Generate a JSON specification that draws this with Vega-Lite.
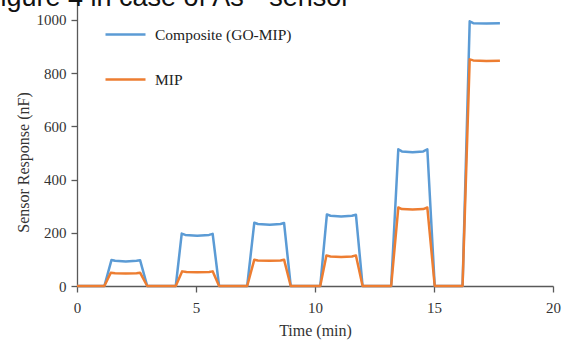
{
  "$schema": "https://vega.github.io/schema/vega-lite/v6.json",
  "autosize": {"type": "none"},
  "width": 476,
  "height": 286,
  "padding": {"left": 77, "top": 0, "right": 10, "bottom": 59},
  "background": "white",
  "title": {
    "text": "Figure 4 in case of As³⁺ sensor",
    "anchor": "start",
    "frame": "group",
    "orient": "none",
    "baseline": "alphabetic",
    "align": "left",
    "dx": -93,
    "dy": 6,
    "font": "Liberation Sans",
    "fontSize": 27,
    "fontWeight": "normal",
    "color": "#111111"
  },
  "config": {
    "view": {"stroke": null},
    "axis": {
      "grid": false,
      "labelFlush": false,
      "domainColor": "#595959",
      "tickColor": "#595959",
      "domainWidth": 1.3,
      "tickWidth": 1.3,
      "tickSize": 6,
      "labelFont": "Liberation Serif",
      "labelFontSize": 15,
      "labelColor": "#333333",
      "titleFont": "Liberation Serif",
      "titleFontSize": 16,
      "titleFontWeight": "normal",
      "titleColor": "#333333"
    }
  },
  "data": {
    "values": [
      {"s": "Composite (GO-MIP)", "t": 0, "v": 0},
      {"s": "Composite (GO-MIP)", "t": 1.15, "v": 0},
      {"s": "Composite (GO-MIP)", "t": 1.45, "v": 98},
      {"s": "Composite (GO-MIP)", "t": 1.6, "v": 95},
      {"s": "Composite (GO-MIP)", "t": 2.05, "v": 92},
      {"s": "Composite (GO-MIP)", "t": 2.5, "v": 95},
      {"s": "Composite (GO-MIP)", "t": 2.65, "v": 97},
      {"s": "Composite (GO-MIP)", "t": 2.95, "v": 0},
      {"s": "Composite (GO-MIP)", "t": 4.15, "v": 0},
      {"s": "Composite (GO-MIP)", "t": 4.4, "v": 197},
      {"s": "Composite (GO-MIP)", "t": 4.55, "v": 192},
      {"s": "Composite (GO-MIP)", "t": 5.05, "v": 189},
      {"s": "Composite (GO-MIP)", "t": 5.55, "v": 192},
      {"s": "Composite (GO-MIP)", "t": 5.7, "v": 196},
      {"s": "Composite (GO-MIP)", "t": 5.97, "v": 0},
      {"s": "Composite (GO-MIP)", "t": 7.15, "v": 0},
      {"s": "Composite (GO-MIP)", "t": 7.45, "v": 238},
      {"s": "Composite (GO-MIP)", "t": 7.6, "v": 233},
      {"s": "Composite (GO-MIP)", "t": 8.1, "v": 230},
      {"s": "Composite (GO-MIP)", "t": 8.55, "v": 233},
      {"s": "Composite (GO-MIP)", "t": 8.7, "v": 237},
      {"s": "Composite (GO-MIP)", "t": 8.98, "v": 0},
      {"s": "Composite (GO-MIP)", "t": 10.22, "v": 0},
      {"s": "Composite (GO-MIP)", "t": 10.5, "v": 269},
      {"s": "Composite (GO-MIP)", "t": 10.65, "v": 264},
      {"s": "Composite (GO-MIP)", "t": 11.1, "v": 261},
      {"s": "Composite (GO-MIP)", "t": 11.55, "v": 264},
      {"s": "Composite (GO-MIP)", "t": 11.72, "v": 268},
      {"s": "Composite (GO-MIP)", "t": 12.0, "v": 0},
      {"s": "Composite (GO-MIP)", "t": 13.2, "v": 0},
      {"s": "Composite (GO-MIP)", "t": 13.5, "v": 514},
      {"s": "Composite (GO-MIP)", "t": 13.65, "v": 506},
      {"s": "Composite (GO-MIP)", "t": 14.1, "v": 503},
      {"s": "Composite (GO-MIP)", "t": 14.55, "v": 506},
      {"s": "Composite (GO-MIP)", "t": 14.72, "v": 514},
      {"s": "Composite (GO-MIP)", "t": 15.03, "v": 0},
      {"s": "Composite (GO-MIP)", "t": 16.2, "v": 0},
      {"s": "Composite (GO-MIP)", "t": 16.5, "v": 995},
      {"s": "Composite (GO-MIP)", "t": 16.65, "v": 988},
      {"s": "Composite (GO-MIP)", "t": 17.2, "v": 987},
      {"s": "Composite (GO-MIP)", "t": 17.77, "v": 988},
      {"s": "MIP", "t": 0, "v": 0},
      {"s": "MIP", "t": 1.15, "v": 0},
      {"s": "MIP", "t": 1.42, "v": 50},
      {"s": "MIP", "t": 1.6, "v": 48},
      {"s": "MIP", "t": 2.05, "v": 47},
      {"s": "MIP", "t": 2.5, "v": 48},
      {"s": "MIP", "t": 2.65, "v": 50},
      {"s": "MIP", "t": 2.95, "v": 0},
      {"s": "MIP", "t": 4.15, "v": 0},
      {"s": "MIP", "t": 4.42, "v": 55},
      {"s": "MIP", "t": 4.6, "v": 53},
      {"s": "MIP", "t": 5.05, "v": 52},
      {"s": "MIP", "t": 5.55, "v": 53},
      {"s": "MIP", "t": 5.7, "v": 55},
      {"s": "MIP", "t": 5.97, "v": 0},
      {"s": "MIP", "t": 7.15, "v": 0},
      {"s": "MIP", "t": 7.45, "v": 99},
      {"s": "MIP", "t": 7.6, "v": 96},
      {"s": "MIP", "t": 8.1, "v": 95},
      {"s": "MIP", "t": 8.55, "v": 96},
      {"s": "MIP", "t": 8.7, "v": 99},
      {"s": "MIP", "t": 8.98, "v": 0},
      {"s": "MIP", "t": 10.22, "v": 0},
      {"s": "MIP", "t": 10.48, "v": 115},
      {"s": "MIP", "t": 10.65, "v": 111},
      {"s": "MIP", "t": 11.1, "v": 109},
      {"s": "MIP", "t": 11.55, "v": 111},
      {"s": "MIP", "t": 11.72, "v": 115},
      {"s": "MIP", "t": 12.0, "v": 0},
      {"s": "MIP", "t": 13.2, "v": 0},
      {"s": "MIP", "t": 13.5, "v": 295},
      {"s": "MIP", "t": 13.65, "v": 289},
      {"s": "MIP", "t": 14.1, "v": 288},
      {"s": "MIP", "t": 14.55, "v": 289},
      {"s": "MIP", "t": 14.72, "v": 295},
      {"s": "MIP", "t": 15.03, "v": 0},
      {"s": "MIP", "t": 16.2, "v": 0},
      {"s": "MIP", "t": 16.5, "v": 852},
      {"s": "MIP", "t": 16.65, "v": 848},
      {"s": "MIP", "t": 17.2, "v": 846},
      {"s": "MIP", "t": 17.77, "v": 847}
    ]
  },
  "mark": {"type": "line", "strokeWidth": 2.5, "strokeJoin": "round"},
  "encoding": {
    "x": {
      "field": "t",
      "type": "quantitative",
      "scale": {"domain": [0, 20], "nice": false},
      "axis": {
        "title": "Time (min)",
        "values": [0, 5, 10, 15, 20],
        "format": "d",
        "labelPadding": 8,
        "titleY": 44,
        "titleBaseline": "middle"
      }
    },
    "y": {
      "field": "v",
      "type": "quantitative",
      "scale": {"domain": [0, 1075], "nice": false},
      "axis": {
        "title": "Sensor Response (nF)",
        "values": [0, 200, 400, 600, 800, 1000],
        "format": "d",
        "labelPadding": 5,
        "titleX": -54,
        "titleY": 162,
        "titleBaseline": "middle"
      }
    },
    "color": {
      "field": "s",
      "type": "nominal",
      "scale": {"domain": ["Composite (GO-MIP)", "MIP"], "range": ["#5b9bd5", "#ed7d31"]},
      "legend": {
        "title": null,
        "orient": "none",
        "legendX": 27,
        "legendY": 13,
        "padding": 0,
        "symbolType": "stroke",
        "symbolSize": 1600,
        "symbolStrokeWidth": 2.5,
        "labelOffset": 8,
        "rowPadding": 15,
        "labelFont": "Liberation Serif",
        "labelFontSize": 15.5,
        "labelColor": "#222222"
      }
    }
  }
}
